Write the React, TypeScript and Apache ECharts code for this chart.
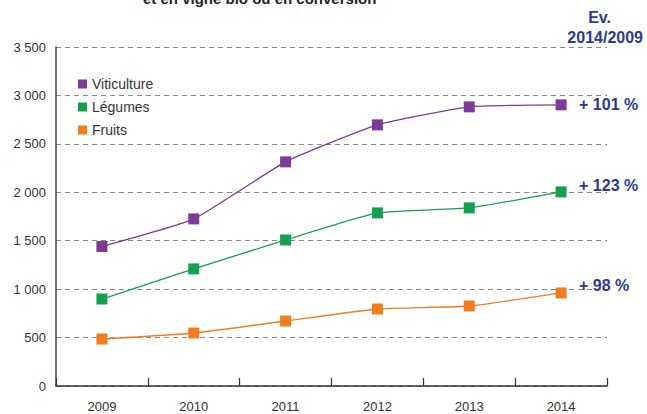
import React, { useEffect, useRef } from "react";
import * as echarts from "echarts";

const years = ["2009", "2010", "2011", "2012", "2013", "2014"];
const viticulture = [1440, 1725, 2314, 2696, 2882, 2903];
const legumes = [898, 1209, 1508, 1787, 1839, 2004];
const fruits = [485, 547, 671, 795, 826, 961];
const evolutionLabels = ["+ 101 %", "+ 123 %", "+ 98 %"];
const seriesNames = ["Viticulture", "Légumes", "Fruits"];
const colors = ["#7d3a96", "#14a050", "#f47c20"];
const yTicks = [0, 500, 1000, 1500, 2000, 2500, 3000, 3500];

const FONT = "'Liberation Sans', Arial, sans-serif";

export default function App() {
  const ref = useRef<HTMLDivElement>(null);
  useEffect(() => {
    if (!ref.current) return;
    const chart = echarts.init(ref.current, undefined, { renderer: "svg" });
    const datas = [viticulture, legumes, fruits];
    const offsets = [[16, 0], [16, -6], [16, -7]];
    chart.setOption({
      animation: false,
      textStyle: { fontFamily: FONT },
      grid: { left: 56, right: 40, top: 47, bottom: 28, containLabel: false },
      legend: {
        orient: "vertical",
        left: 73,
        top: 72,
        itemWidth: 9,
        itemHeight: 9,
        itemGap: 9,
        icon: "rect",
        data: seriesNames,
        textStyle: { fontSize: 14, color: "#333", fontFamily: FONT },
      },
      graphic: [
        {
          type: "text",
          left: 143,
          top: -9,
          style: {
            text: "et en vigne bio ou en conversion",
            font: `bold 15px ${FONT}`,
            fill: "#222",
          },
        },
        {
          type: "text",
          right: 36,
          top: 9,
          style: { text: "Ev.", font: `bold 16px ${FONT}`, fill: "#2b3a8f" },
        },
        {
          type: "text",
          right: 4,
          top: 29,
          style: { text: "2014/2009", font: `bold 16px ${FONT}`, fill: "#2b3a8f" },
        },
      ],
      xAxis: {
        type: "category",
        data: years,
        boundaryGap: true,
        axisLine: { lineStyle: { color: "#333", width: 1.5 } },
        axisTick: { show: true, inside: true, length: 8, lineStyle: { color: "#333", width: 1.2 } },
        axisLabel: { color: "#333", fontSize: 13, margin: 14 },
      },
      yAxis: {
        type: "value",
        min: 0,
        max: 3500,
        interval: 500,
        axisLine: { show: true, lineStyle: { color: "#444", width: 1.5 } },
        axisTick: { show: false },
        axisLabel: {
          color: "#333",
          fontSize: 13,
          margin: 10,
          formatter: (v: number) => (yTicks.includes(v) ? String(v).replace(/\B(?=(\d{3})+(?!\d))/g, " ") : ""),
        },
        splitLine: { show: true, lineStyle: { color: "#888", type: [5, 4], width: 1 } },
      },
      series: seriesNames.map((name, i) => ({
        name,
        type: "line",
        data: datas[i],
        smooth: 0.15,
        symbol: "rect",
        symbolSize: 11,
        itemStyle: { color: colors[i] },
        lineStyle: { color: colors[i], width: 1.3 },
        endLabel: {
          show: true,
          formatter: () => evolutionLabels[i],
          color: "#2b3a8f",
          fontWeight: "bold",
          fontSize: 16,
          fontFamily: FONT,
          offset: offsets[i],
          distance: 2,
        },
      })),
    });
    return () => chart.dispose();
  }, []);
  return <div ref={ref} style={{ width: 647, height: 414, position: "absolute", left: 0, top: 0 }} />;
}
